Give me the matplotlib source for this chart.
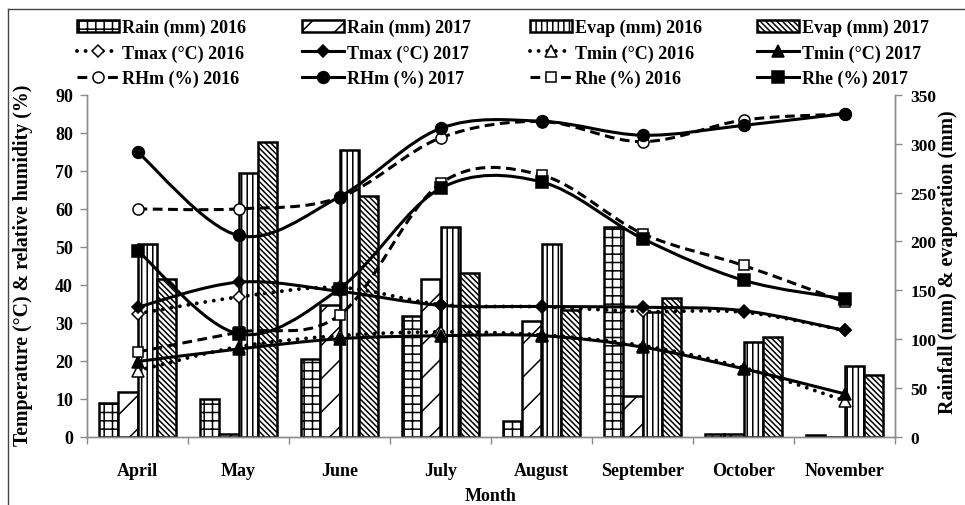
import numpy as np
import matplotlib
matplotlib.use('Agg')
import matplotlib.pyplot as plt
from matplotlib.path import Path
from matplotlib.patches import PathPatch, Patch
from matplotlib.lines import Line2D

plt.rcParams['font.family'] = 'Liberation Serif'
plt.rcParams['font.weight'] = 'bold'
plt.rcParams['hatch.linewidth'] = 1.1

# monthly data
months = ['April', 'May', 'June', 'July', 'August', 'September', 'October', 'November']

# right axis (mm)
rain_2016 = [34.5, 38.6, 79.6, 124, 16.4, 215, 2.5, 1.5]
rain_2017 = [45.5, 2.5, 135, 162, 119, 42, 2.5, 0]
evap_2016 = [197, 270, 293.6, 215, 197, 128, 96.7, 72.7]
evap_2017 = [162, 301.5, 247, 167.7, 130, 141.8, 102, 63]

# left axis (degC / %)
tmax_2016 = [32.4, 36.8, 39.3, 34.8, 34.2, 33.0, 32.8, 28.0]
tmax_2017 = [34.1, 40.7, 38.3, 34.6, 34.3, 34.1, 33.2, 28.0]
tmin_2016 = [17.4, 23.7, 26.6, 27.6, 26.8, 24.0, 18.2, 9.5]
tmin_2017 = [19.8, 23.1, 25.8, 26.6, 26.6, 23.6, 17.9, 11.3]
rhm_2016 = [60, 60, 63, 78.7, 83, 77.7, 83.4, 85]
rhm_2017 = [75, 53, 63.2, 81.2, 83.1, 79.4, 82, 85.1]
rhe_2016 = [22.3, 27.5, 32, 66.7, 68.9, 53.5, 45.1, 35.5]
rhe_2017 = [49, 27.1, 39, 65.4, 67.1, 52.2, 41.2, 36.3]

GRAY = '#8c8c8c'
FS = 13


def smooth_path(x, y):
    # excel style smoothed line, drawn as bezier segments through the points
    pts = np.column_stack([x, y]).astype(float)
    n = len(pts)
    verts = [pts[0]]
    codes = [Path.MOVETO]
    for i in range(n - 1):
        p0 = pts[max(i - 1, 0)]
        p1 = pts[i]
        p2 = pts[i + 1]
        p3 = pts[min(i + 2, n - 1)]
        verts += [p1 + (p2 - p0) / 6, p2 - (p3 - p1) / 6, p2]
        codes += [Path.CURVE4] * 3
    return Path(verts, codes)


fig = plt.figure(figsize=(9.65, 5.06), dpi=100)
ax = fig.add_axes([87 / 965, 1 - 437.7 / 506, 808 / 965, 341.7 / 506])
ax2 = ax.twinx()
ax.set_zorder(ax2.get_zorder() + 1)
ax.patch.set_visible(False)

x = np.arange(len(months))
w = 0.19
bar_specs = [
    (rain_2016, -1.5, '++', 'Rain (mm) 2016'),
    (rain_2017, -0.5, '/', 'Rain (mm) 2017'),
    (evap_2016, 0.5, '|||', 'Evap (mm) 2016'),
    (evap_2017, 1.5, '\\' * 6, 'Evap (mm) 2017'),
]
bar_handles = []
for vals, off, hatch, lab in bar_specs:
    ax2.bar(x + off * w, vals, w, facecolor='white', edgecolor='black',
            linewidth=1.8, hatch=hatch)
    bar_handles.append((Patch(facecolor='white', edgecolor='black', linewidth=1.8,
                              hatch=hatch), lab))

dotted = (0, (0.01, 2.2))
dashed = (0, (3.2, 1.8))
line_specs = [
    (tmax_2016, dotted, 'D', 'white', 6.5, 'Tmax (°C) 2016'),
    (tmax_2017, 'solid', 'D', 'black', 6.5, 'Tmax (°C) 2017'),
    (tmin_2016, dotted, '^', 'white', 8, 'Tmin (°C) 2016'),
    (tmin_2017, 'solid', '^', 'black', 8, 'Tmin (°C) 2017'),
    (rhm_2016, dashed, 'o', 'white', 8, 'RHm (%) 2016'),
    (rhm_2017, 'solid', 'o', 'black', 8.5, 'RHm (%) 2017'),
    (rhe_2016, dashed, 's', 'white', 7.5, 'Rhe (%) 2016'),
    (rhe_2017, 'solid', 's', 'black', 8, 'Rhe (%) 2017'),
]
line_handles = []
for vals, ls, mk, fc, ms, lab in line_specs:
    lw = 2.8 if ls is dotted else 2.2
    pp = PathPatch(smooth_path(x, vals), fill=False, edgecolor='black',
                   linewidth=lw, linestyle=ls, capstyle='round' if ls is dotted else 'butt')
    ax.add_patch(pp)
    ax.plot(x, vals, linestyle='none', marker=mk, markersize=ms,
            markerfacecolor=fc, markeredgecolor='black', markeredgewidth=1.1)
    h = Line2D([], [], color='black', linewidth=lw, linestyle=ls, marker=mk,
               markersize=ms, markerfacecolor=fc, markeredgecolor='black',
               markeredgewidth=1.1, dash_capstyle='round' if ls is dotted else 'butt')
    line_handles.append((h, lab))

ax.set_xlim(-0.5, len(months) - 0.5)
ax.set_ylim(0, 90)
ax2.set_ylim(0, 350)
ax.set_yticks(np.arange(0, 91, 10))
ax2.set_yticks(np.arange(0, 351, 50))
ax.set_xticks(x)
ax.set_xticklabels(months)
ax.set_xticks(np.arange(-0.5, len(months)), minor=True)
ax.tick_params(axis='x', which='major', length=0, pad=18, labelsize=FS)
ax.tick_params(axis='x', which='minor', length=5, color=GRAY, width=1)
ax.tick_params(axis='y', length=5, color=GRAY, width=1, pad=5, labelsize=FS)
ax2.tick_params(axis='y', length=5, color=GRAY, width=1, pad=6, labelsize=12.5)

for a in (ax, ax2):
    a.spines['top'].set_visible(False)
    for s in ('left', 'right', 'bottom'):
        a.spines[s].set_color(GRAY)
        a.spines[s].set_linewidth(1)

ax.set_xlabel('Month', fontsize=FS, fontweight='bold', labelpad=6)
ax.set_ylabel('Temperature (°C) & relative humidity (%)', fontsize=14.3, fontweight='bold')
ax.yaxis.set_label_coords(-0.067, 0.505)
ax2.set_ylabel('Rainfall (mm) & evaporation (mm)', fontsize=14.5, fontweight='bold')
ax2.yaxis.set_label_coords(1.053, 0.515)

# legend: four columns placed by hand
cols = [
    [bar_handles[0], line_handles[0], line_handles[4]],
    [bar_handles[1], line_handles[1], line_handles[5]],
    [bar_handles[2], line_handles[2], line_handles[6]],
    [bar_handles[3], line_handles[3], line_handles[7]],
]
col_x = [77, 302, 530, 757]
for cx, entries in zip(col_x, cols):
    fig.legend([e[0] for e in entries], [e[1] for e in entries],
               loc='center left', bbox_to_anchor=(cx / 965, 1 - 54 / 506),
               frameon=False, borderpad=0, borderaxespad=0,
               handlelength=2.3, handletextpad=0.2, labelspacing=0.45,
               prop={'family': 'Liberation Serif', 'weight': 'bold', 'size': FS})

# partial frame around the figure
fig.add_artist(Line2D([8 / 965, 8 / 965], [0, 1 - 10 / 506], color='#444444', lw=1))
fig.add_artist(Line2D([8 / 965, 1], [1 - 10 / 506, 1 - 10 / 506], color='#444444', lw=1))

fig.savefig('out.png', dpi=100)
